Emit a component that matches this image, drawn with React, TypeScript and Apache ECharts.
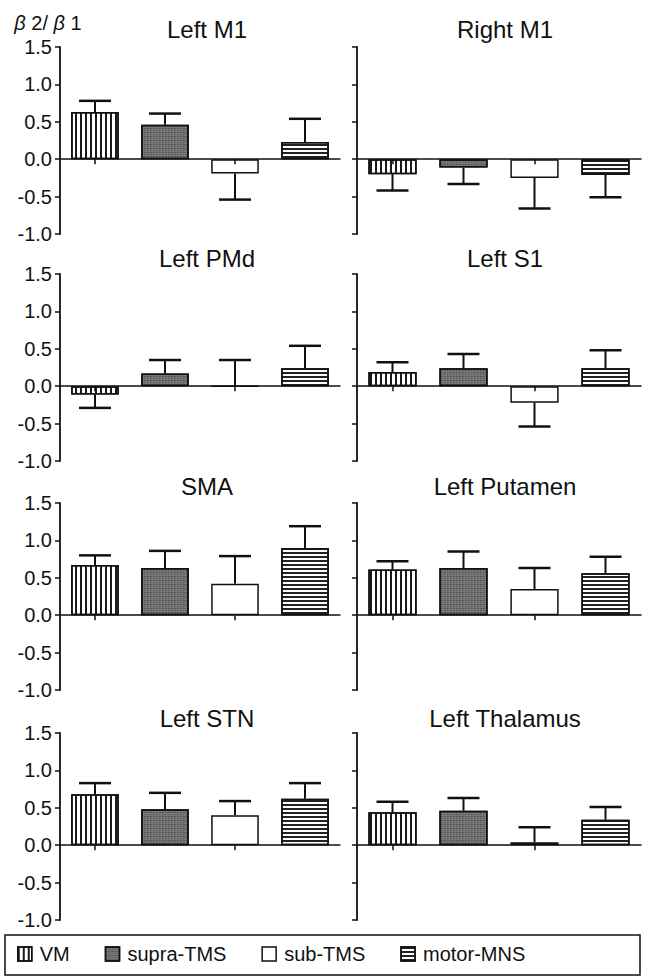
import React, { useEffect, useRef } from "react";
import * as echarts from "echarts";

// ---- data ----
const regions = ["Left M1", "Right M1", "Left PMd", "Left S1", "SMA", "Left Putamen", "Left STN", "Left Thalamus"];
const conditions = ["VM", "supra-TMS", "sub-TMS", "motor-MNS"];
const yMin = -1.0;
const yMax = 1.5;
const yStep = 0.5;

// bar heights (mean) and error-bar lengths, order: VM, supra-TMS, sub-TMS, motor-MNS
const leftM1Mean = [0.63, 0.46, -0.19, 0.23];
const leftM1Err = [0.15, 0.15, 0.35, 0.31];
const rightM1Mean = [-0.2, -0.11, -0.25, -0.21];
const rightM1Err = [0.22, 0.22, 0.41, 0.3];
const leftPMdMean = [-0.11, 0.17, 0.0, 0.24];
const leftPMdErr = [0.18, 0.18, 0.35, 0.3];
const leftS1Mean = [0.19, 0.24, -0.22, 0.24];
const leftS1Err = [0.13, 0.19, 0.32, 0.24];
const smaMean = [0.67, 0.63, 0.42, 0.9];
const smaErr = [0.13, 0.23, 0.37, 0.29];
const leftPutamenMean = [0.61, 0.63, 0.35, 0.56];
const leftPutamenErr = [0.11, 0.22, 0.28, 0.22];
const leftSTNMean = [0.68, 0.48, 0.4, 0.62];
const leftSTNErr = [0.15, 0.22, 0.19, 0.21];
const leftThalamusMean = [0.44, 0.46, 0.04, 0.34];
const leftThalamusErr = [0.14, 0.17, 0.2, 0.17];

const means = [leftM1Mean, rightM1Mean, leftPMdMean, leftS1Mean, smaMean, leftPutamenMean, leftSTNMean, leftThalamusMean];
const errs = [leftM1Err, rightM1Err, leftPMdErr, leftS1Err, smaErr, leftPutamenErr, leftSTNErr, leftThalamusErr];

// ---- layout ----
const FONT = "Arial, 'Liberation Sans', sans-serif";
const INK = "#111";
const colLeft = [60, 357];
const colWidth = [280, 284];
const rowTop = [47, 274, 503, 733];
const rowHeight = 187;
const titleX = [207, 505];
const titleCY = [29, 258, 486, 718];

const barStyles: any[] = [
  {
    color: "#ffffff",
    borderColor: INK,
    borderWidth: 1.5,
    decal: { symbol: "rect", symbolSize: 1, symbolKeepAspect: false, color: "#1a1a1a", dashArrayX: [2, 3], dashArrayY: [10, 0], rotation: 0 },
  },
  {
    color: "#767676",
    borderColor: INK,
    borderWidth: 1.5,
    decal: { symbol: "rect", symbolSize: 1, symbolKeepAspect: false, color: "rgba(0,0,0,0.28)", dashArrayX: [[1, 2], [2, 1]], dashArrayY: [1, 1], rotation: 0 },
  },
  { color: "#ffffff", borderColor: INK, borderWidth: 1.5 },
  {
    color: "#ffffff",
    borderColor: INK,
    borderWidth: 1.5,
    decal: { symbol: "rect", symbolSize: 1, symbolKeepAspect: false, color: "#222", dashArrayX: [10, 0], dashArrayY: [2, 2], rotation: 0 },
  },
];

function buildOption() {
  const grid: any[] = [];
  const xAxis: any[] = [];
  const yAxis: any[] = [];
  const series: any[] = [];
  const title: any[] = [];

  regions.forEach((name, p) => {
    const col = p % 2;
    const row = Math.floor(p / 2);
    grid.push({ left: colLeft[col], width: colWidth[col], top: rowTop[row], height: rowHeight, containLabel: false });
    xAxis.push({
      type: "category",
      gridIndex: p,
      data: conditions,
      z: 3,
      axisLine: { onZero: true, lineStyle: { color: INK, width: 1.5 } },
      axisTick: { show: true, alignWithLabel: true, length: 5, lineStyle: { color: INK, width: 1.5 } },
      axisLabel: { show: false },
      splitLine: { show: false },
    });
    yAxis.push({
      type: "value",
      gridIndex: p,
      min: yMin,
      max: yMax,
      interval: yStep,
      axisLine: { show: true, onZero: false, lineStyle: { color: INK, width: 1.8 } },
      axisTick: { show: true, length: 5, lineStyle: { color: INK, width: 1.5 } },
      axisLabel: {
        show: col === 0,
        margin: 8,
        color: INK,
        fontSize: 20,
        fontFamily: FONT,
        formatter: (v: number) => v.toFixed(1),
      },
      splitLine: { show: false },
      ...(p === 0
        ? {
            name: "{i|β} 2/ {i|β} 1",
            nameLocation: "end",
            nameGap: 14,
            nameTextStyle: {
              color: INK,
              fontSize: 20,
              fontFamily: FONT,
              align: "center",
              padding: [0, 24, 0, 0],
              rich: { i: { fontStyle: "italic", fontSize: 20, fontFamily: FONT, color: INK } },
            },
          }
        : {}),
    });
    title.push({
      text: name,
      left: titleX[col],
      top: titleCY[row] - 12,
      textAlign: "center",
      textVerticalAlign: "top",
      padding: 0,
      textStyle: { fontSize: 24, fontWeight: "normal", fontFamily: FONT, color: INK, lineHeight: 24 },
    });

    conditions.forEach((cond, c) => {
      series.push({
        type: "bar",
        name: cond,
        xAxisIndex: p,
        yAxisIndex: p,
        stack: "panel" + p,
        barWidth: "68%",
        data: conditions.map((_, i) => (i === c ? means[p][c] : "-")),
        itemStyle: barStyles[c],
        silent: true,
      });
    });

    series.push({
      type: "custom",
      xAxisIndex: p,
      yAxisIndex: p,
      z: 4,
      silent: true,
      encode: { x: 0, y: [1, 2] },
      data: conditions.map((_, i) => {
        const m = means[p][i];
        const e = m >= 0 ? m + errs[p][i] : m - errs[p][i];
        return [i, m, e];
      }),
      renderItem: (params: any, api: any) => {
        const ci = api.value(0);
        const p0 = api.coord([ci, api.value(1)]);
        const p1 = api.coord([ci, api.value(2)]);
        const hw = 16;
        return {
          type: "group",
          children: [
            { type: "line", shape: { x1: p0[0], y1: p0[1], x2: p1[0], y2: p1[1] }, style: { stroke: INK, lineWidth: 2 } },
            { type: "line", shape: { x1: p1[0] - hw, y1: p1[1], x2: p1[0] + hw, y2: p1[1] }, style: { stroke: INK, lineWidth: 2.5 } },
          ],
        };
      },
    });
  });

  return {
    animation: false,
    backgroundColor: "#ffffff",
    title,
    grid,
    xAxis,
    yAxis,
    series,
    legend: {
      data: conditions,
      left: 17,
      top: 944,
      padding: 0,
      itemWidth: 14,
      itemHeight: 14,
      itemGap: 35,
      icon: "rect",
      selectedMode: false,
      itemStyle: { borderColor: INK, borderWidth: 1.5 },
      textStyle: { fontSize: 20, fontFamily: FONT, color: INK, padding: [0, 0, 0, 3] },
    },
    graphic: [
      {
        type: "rect",
        shape: { x: 5, y: 935, width: 635, height: 40 },
        style: { fill: "none", stroke: INK, lineWidth: 1.5 },
        silent: true,
      },
    ],
  };
}

export default function App() {
  const ref = useRef<HTMLDivElement>(null);
  useEffect(() => {
    document.body.style.margin = "0";
    if (!ref.current) return;
    const chart = echarts.init(ref.current, null, { renderer: "svg" });
    chart.setOption(buildOption() as any);
    return () => chart.dispose();
  }, []);
  return <div ref={ref} style={{ position: "absolute", left: 0, top: 0, width: 647, height: 977, background: "#fff" }} />;
}
